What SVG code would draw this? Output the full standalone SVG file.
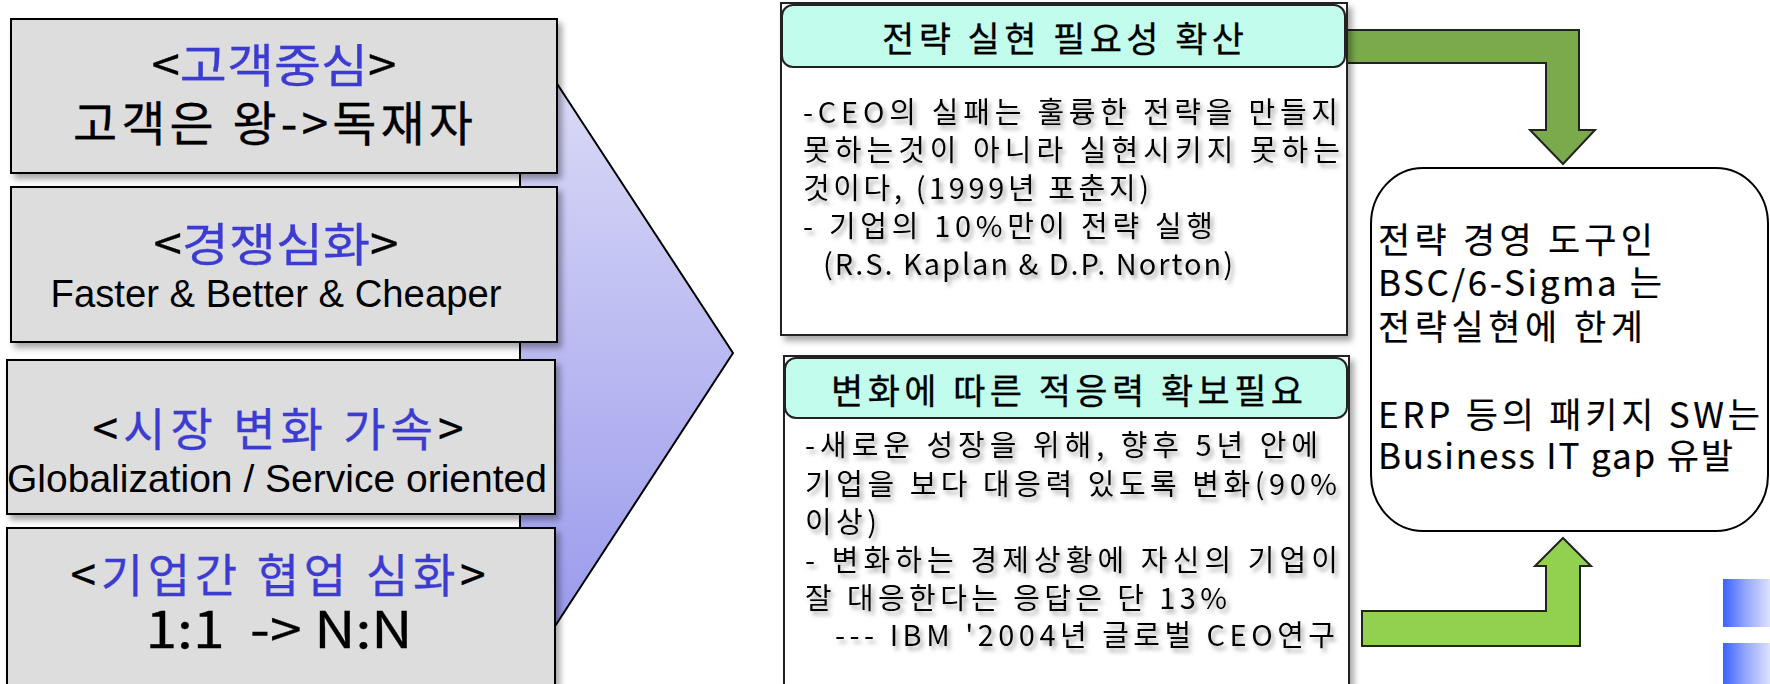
<svg xmlns="http://www.w3.org/2000/svg" width="1770" height="684" viewBox="0 0 1770 684">
<defs>
<linearGradient id="chev" x1="0" y1="0" x2="0" y2="1">
<stop offset="0" stop-color="#e0e0f8"/>
<stop offset="1" stop-color="#9494ec"/>
</linearGradient>
<linearGradient id="blueg" x1="0" y1="0" x2="1" y2="0">
<stop offset="0" stop-color="#3a63ff"/>
<stop offset="0.5" stop-color="#96a8ff"/>
<stop offset="1" stop-color="#dde2ff"/>
</linearGradient>
<filter id="shadow" x="-5%" y="-5%" width="115%" height="120%">
<feDropShadow dx="4" dy="5" stdDeviation="3" flood-color="#000" flood-opacity="0.35"/>
</filter>
<filter id="tshadow" x="-5%" y="-10%" width="115%" height="130%">
<feDropShadow dx="3" dy="4" stdDeviation="2.2" flood-color="#777" flood-opacity="0.65"/>
</filter>
</defs>
<style>
.lbox{fill:#dddddd;stroke:#000;stroke-width:2;filter:url(#shadow)}
.kr{font-family:"Noto Sans CJK KR","Noto Sans",sans-serif;fill:#000}
.en{font-family:"Liberation Sans",Arial,sans-serif;fill:#000}
.heavy{stroke:#000;stroke-width:0.3}
.blue{fill:#3c3cd2;stroke:#3c3cd2}
.outer{fill:#fff;stroke:#222;stroke-width:2;filter:url(#shadow)}
.hdr{fill:#c2fcec;stroke:#222;stroke-width:2}
.body{font-size:29px;filter:url(#tshadow)}
.rt{font-size:35px;stroke:#000;stroke-width:0.2}
.arrow{stroke:#222;stroke-width:2;stroke-linejoin:miter}
</style>

<g id="chevron">
<polygon points="520,27 733,353 520,680" fill="url(#chev)" stroke="#000" stroke-width="2"/>
</g>

<g id="box1">
<rect class="lbox" x="11" y="19" width="546" height="154"/>
<text class="kr heavy" text-anchor="middle"><tspan x="274" y="82" font-size="46" textLength="245" lengthAdjust="spacingAndGlyphs">&lt;<tspan class="blue">고객중심</tspan>&gt;</tspan><tspan x="273" y="141" font-size="48" textLength="400" lengthAdjust="spacing">고객은 왕-&gt;독재자</tspan></text>
</g>

<g id="box2">
<rect class="lbox" x="11" y="187" width="546" height="155"/>
<text text-anchor="middle"><tspan class="kr heavy" x="276" y="261" font-size="46" textLength="245" lengthAdjust="spacingAndGlyphs">&lt;<tspan class="blue">경쟁심화</tspan>&gt;</tspan><tspan class="en" x="276" y="307" font-size="38" textLength="451" lengthAdjust="spacingAndGlyphs">Faster &amp; Better &amp; Cheaper</tspan></text>
</g>

<g id="box3">
<rect class="lbox" x="7" y="360" width="548" height="154"/>
<text text-anchor="middle"><tspan class="kr heavy" x="278" y="446" font-size="46" textLength="371" lengthAdjust="spacing">&lt;<tspan class="blue">시장 변화 가속</tspan>&gt;</tspan><tspan class="en" x="277" y="492" font-size="39" textLength="540" lengthAdjust="spacingAndGlyphs">Globalization / Service oriented</tspan></text>
</g>

<g id="box4">
<rect class="lbox" x="7" y="528" width="548" height="160"/>
<text class="kr heavy" text-anchor="middle" xml:space="preserve"><tspan x="278" y="592" font-size="46" textLength="415" lengthAdjust="spacing">&lt;<tspan class="blue">기업간 협업 심화</tspan>&gt;</tspan><tspan x="279" y="648" font-size="50" textLength="267" lengthAdjust="spacingAndGlyphs">1:1  -&gt; N:N</tspan></text>
</g>

<g id="connectors">
<polygon class="arrow" fill="#7aaa4c" points="1345,30 1579,30 1579,130 1595,130 1563,164 1530,130 1546,130 1546,63 1345,63"/>
<polygon class="arrow" fill="#92d050" points="1362,611 1546,611 1546,566 1535,566 1563,538 1591,566 1580,566 1580,646 1362,646"/>
</g>

<g id="panel1">
<rect class="outer" x="781" y="3" width="566" height="332"/>
<rect class="hdr" x="782" y="5" width="563" height="62" rx="11"/>
<text class="kr heavy" x="1063" y="52" font-size="35" text-anchor="middle" textLength="362" lengthAdjust="spacing">전략 실현 필요성 확산</text>
<text class="kr body"><tspan x="803" y="123" textLength="535" lengthAdjust="spacing">-CEO의 실패는 훌륭한 전략을 만들지</tspan><tspan x="803" y="161" textLength="537" lengthAdjust="spacing">못하는것이 아니라 실현시키지 못하는</tspan><tspan x="803" y="199" textLength="346" lengthAdjust="spacing">것이다, (1999년 포춘지)</tspan><tspan x="803" y="237" textLength="410" lengthAdjust="spacing">- 기업의 10%만이 전략 실행</tspan><tspan x="823" y="275" textLength="410" lengthAdjust="spacing">(R.S. Kaplan &amp; D.P. Norton)</tspan></text>
</g>

<g id="panel2">
<rect class="outer" x="784" y="356" width="565" height="340"/>
<rect class="hdr" x="785" y="358" width="562" height="60" rx="11"/>
<text class="kr heavy" x="1067" y="404" font-size="35" text-anchor="middle" textLength="472" lengthAdjust="spacing">변화에 따른 적응력 확보필요</text>
<text class="kr body"><tspan x="805" y="456" textLength="513" lengthAdjust="spacing">-새로운 성장을 위해, 향후 5년 안에</tspan><tspan x="805" y="495" textLength="532" lengthAdjust="spacing">기업을 보다 대응력 있도록 변화(90%</tspan><tspan x="805" y="533" textLength="72" lengthAdjust="spacing">이상)</tspan><tspan x="805" y="571" textLength="533" lengthAdjust="spacing">- 변화하는 경제상황에 자신의 기업이</tspan><tspan x="805" y="609" textLength="422" lengthAdjust="spacing">잘 대응한다는 응답은 단 13%</tspan><tspan x="835" y="646" textLength="500" lengthAdjust="spacing">--- IBM '2004년 글로벌 CEO연구</tspan></text>
</g>

<g id="result">
<rect x="1371" y="168" width="397" height="363" rx="52" ry="56" fill="#fff" stroke="#000" stroke-width="2"/>
<text class="kr rt"><tspan x="1378" y="253" textLength="275" lengthAdjust="spacing">전략 경영 도구인</tspan><tspan x="1378" y="296" textLength="284" lengthAdjust="spacing">BSC/6-Sigma 는</tspan><tspan x="1378" y="340" textLength="265" lengthAdjust="spacing">전략실현에 한계</tspan><tspan x="1378" y="428" textLength="382" lengthAdjust="spacing">ERP 등의 패키지 SW는</tspan><tspan x="1378" y="469" textLength="355" lengthAdjust="spacing">Business IT gap 유발</tspan></text>
</g>

<g id="deco">
<rect x="1723" y="579" width="47" height="48" fill="url(#blueg)"/>
<rect x="1723" y="643" width="47" height="41" fill="url(#blueg)"/>
</g>
</svg>
